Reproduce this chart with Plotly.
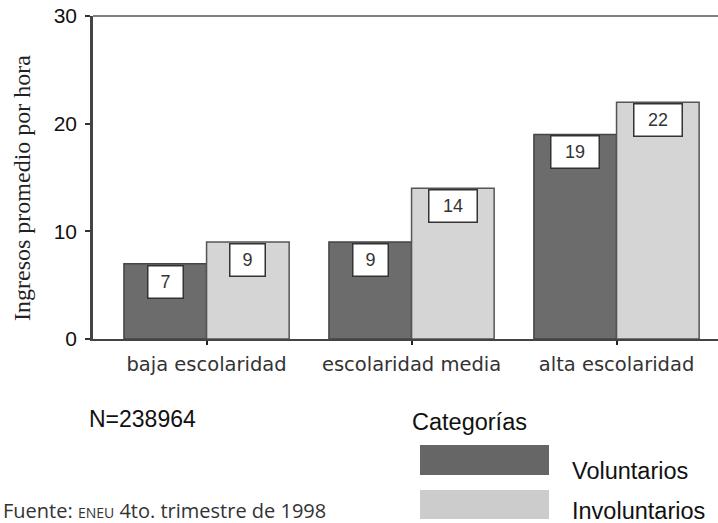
import plotly.graph_objects as go

# Average hourly income by schooling level, split by category
categorias_x = ["baja escolaridad", "escolaridad media", "alta escolaridad"]
voluntarios = [7, 9, 19]
involuntarios = [9, 14, 22]
series_names = ["Voluntarios", "Involuntarios"]
y_ticks = [0, 10, 20, 30]

W, H = 718, 523
L, R, T, B = 93, 0, 16, 184
plot_w = W - L - R
plot_h = H - T - B
x_range = [-0.554, 2.495]
bargap = 0.194

dark, light = "#6c6c6c", "#d5d5d5"
px_per_cat = plot_w / (x_range[1] - x_range[0])
half_bar = (1 - bargap) / 2 * px_per_cat / 2


def px_x(px):
    return (px - L) / plot_w


def px_y(py):
    return (H - B - py) / plot_h


fig = go.Figure()
fig.add_trace(go.Bar(x=categorias_x, y=voluntarios, name=series_names[0],
                     marker=dict(color=dark, line=dict(color="#444444", width=1.5))))
fig.add_trace(go.Bar(x=categorias_x, y=involuntarios, name=series_names[1],
                     marker=dict(color=light, line=dict(color="#555555", width=1.5))))

annotations = []
# value boxes sitting just under the top of each bar
for vals, shift in ((voluntarios, -half_bar), (involuntarios, half_bar)):
    for cat, v in zip(categorias_x, vals):
        txt = str(v)
        annotations.append(dict(
            x=cat, y=v, xref="x", yref="y", text=txt, showarrow=False,
            xanchor="center", yanchor="top", xshift=shift, yshift=-1,
            width=32 if len(txt) == 1 else 45, height=29,
            bgcolor="white", bordercolor="#333333", borderwidth=1.5, borderpad=1,
            font=dict(family="Liberation Sans, Arial", size=18, color="#333333")))

# y axis title
annotations.append(dict(
    x=px_x(22), y=px_y(188), xref="paper", yref="paper",
    text="Ingresos promedio por hora", textangle=-90, showarrow=False,
    xanchor="center", yanchor="middle",
    font=dict(family="Liberation Serif, Times New Roman", size=24, color="#222222")))

# sample size
annotations.append(dict(
    x=px_x(87), y=px_y(419), xref="paper", yref="paper", text="N=238964",
    showarrow=False, xanchor="left", yanchor="middle",
    font=dict(family="Liberation Sans, Arial", size=23, color="#111111")))

# legend block
annotations.append(dict(
    x=px_x(410), y=px_y(422), xref="paper", yref="paper", text="Categorías",
    showarrow=False, xanchor="left", yanchor="middle",
    font=dict(family="Liberation Sans, Arial", size=23.5, color="#111111")))
for name, cy in zip(series_names, (471, 511)):
    annotations.append(dict(
        x=px_x(570), y=px_y(cy), xref="paper", yref="paper", text=name,
        showarrow=False, xanchor="left", yanchor="middle",
        font=dict(family="Liberation Sans, Arial", size=23.5, color="#111111")))

# source note
annotations.append(dict(
    x=px_x(1), y=px_y(495), xref="paper", yref="paper",
    text="Fuente: <span style='font-size:14px'>ENEU</span> 4to. trimestre de 1998",
    showarrow=False, xanchor="left", yanchor="top",
    font=dict(family="Open Sans", size=20, color="#333333")))

shapes = [
    # top frame line
    dict(type="line", xref="paper", yref="paper", x0=0, x1=1, y0=1, y1=1,
         line=dict(color="#808080", width=2)),
    # legend swatches
    dict(type="rect", xref="paper", yref="paper",
         x0=px_x(420), x1=px_x(549), y0=px_y(475), y1=px_y(445),
         fillcolor="#666666", line=dict(width=0)),
    dict(type="rect", xref="paper", yref="paper",
         x0=px_x(420), x1=px_x(549), y0=px_y(519), y1=px_y(490),
         fillcolor="#cccccc", line=dict(width=0)),
]

fig.update_layout(
    width=W, height=H, margin=dict(l=L, r=R, t=T, b=B, pad=0),
    paper_bgcolor="white", plot_bgcolor="white",
    barmode="group", bargap=bargap, bargroupgap=0,
    showlegend=False, annotations=annotations, shapes=shapes,
    xaxis=dict(range=x_range, showgrid=False, zeroline=False,
               showline=True, linecolor="#444444", linewidth=1.5,
               ticks="outside", ticklen=4, tickwidth=2, tickcolor="#222222",
               tickfont=dict(family="DejaVu Sans", size=19.5, color="#333333"),
               ticklabelstandoff=3),
    yaxis=dict(range=[0, 30], tickvals=y_ticks, showgrid=False, zeroline=False,
               showline=True, linecolor="#444444", linewidth=2.5,
               ticks="outside", ticklen=5, tickwidth=2, tickcolor="#333333",
               tickfont=dict(family="Liberation Sans, Arial", size=21, color="#111111"),
               ticklabelstandoff=4),
)

fig.write_html("out.html")
